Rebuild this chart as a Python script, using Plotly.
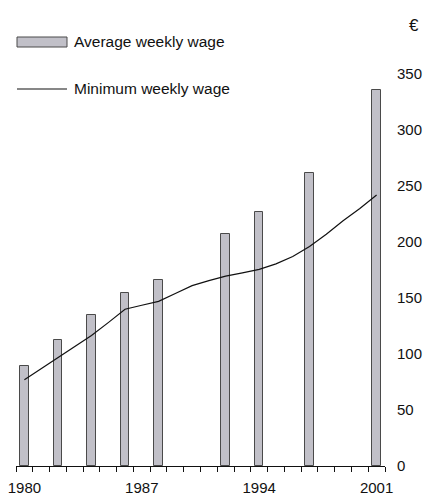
import plotly.graph_objects as go

# Data
bar_years = [1980, 1982, 1984, 1986, 1988, 1992, 1994, 1997, 2001]
avg_weekly_wage = [89.5, 112.5, 135, 154.5, 166, 207, 226.5, 262, 336]

line_years = list(range(1980, 2002))
min_weekly_wage = [77, 87, 97, 107, 116.5, 128, 140, 143.5, 147, 154, 161, 165.5,
                   169.5, 172.5, 175.5, 180.5, 187, 196, 207, 219, 230, 242]

year_labels = [1980, 1987, 1994, 2001]
y_ticks = [0, 50, 100, 150, 200, 250, 300, 350]

W, H = 423, 497
ML, MR, MT, MB = 16, 38, 74, 31
PW, PH = W - ML - MR, H - MT - MB

def px(x):
    return (x - ML) / PW

def py(y):
    return (H - MB - y) / PH

FONT = "Liberation Sans, Arial, Helvetica, sans-serif"

fig = go.Figure()
fig.add_trace(go.Bar(
    x=bar_years, y=avg_weekly_wage, width=0.5,
    marker=dict(color="#c1c0c8", line=dict(color="#4a4a4a", width=1)),
    name="Average weekly wage", showlegend=False,
))
fig.add_trace(go.Scatter(
    x=line_years, y=min_weekly_wage, mode="lines",
    line=dict(color="#111111", width=1.2),
    name="Minimum weekly wage", showlegend=False,
))
# overlay axis trace for year labels
fig.add_trace(go.Scatter(x=[1980], y=[0], xaxis="x2", mode="markers",
                         marker=dict(opacity=0), showlegend=False, hoverinfo="skip"))

boundaries = [y - 0.5 for y in range(1980, 2003)]

fig.update_layout(
    width=W, height=H,
    margin=dict(l=ML, r=MR, t=MT, b=MB, pad=0),
    plot_bgcolor="white", paper_bgcolor="white",
    font=dict(family=FONT, size=15, color="#111111"),
    showlegend=False,
    xaxis=dict(
        range=[1979.5, 2001.5], tickmode="array", tickvals=boundaries,
        showticklabels=False, ticks="outside", ticklen=5, tickcolor="#111111",
        tickwidth=1, showline=True, linecolor="#111111", linewidth=1,
        showgrid=False, zeroline=False, automargin=False, fixedrange=True,
    ),
    xaxis2=dict(
        overlaying="x", anchor="y", side="bottom", matches="x",
        range=[1979.5, 2001.5], tickmode="array", tickvals=year_labels,
        ticktext=[str(v) for v in year_labels], ticks="", showline=False,
        showgrid=False, zeroline=False, automargin=False, ticklabelstandoff=11,
        tickfont=dict(size=15, color="#111111"),
    ),
    yaxis=dict(
        range=[0, 350], side="right", tickmode="array", tickvals=y_ticks,
        ticks="", showline=False, showgrid=False, zeroline=False,
        automargin=False, ticklabelstandoff=11,
        tickfont=dict(size=15, color="#111111"),
    ),
    bargap=0,
)

# Manual legend (matches the reference's long swatches)
fig.add_shape(type="rect", xref="paper", yref="paper",
              x0=px(17), x1=px(67), y0=py(47), y1=py(37),
              fillcolor="#c1c0c8", line=dict(color="#4a4a4a", width=1))
fig.add_shape(type="line", xref="paper", yref="paper",
              x0=px(17), x1=px(67), y0=py(89), y1=py(89),
              line=dict(color="#111111", width=1.2))
fig.add_annotation(xref="paper", yref="paper", x=px(72), y=py(42),
                   text="Average weekly wage", showarrow=False,
                   xanchor="left", yanchor="middle",
                   font=dict(size=15.5, color="#111111"))
fig.add_annotation(xref="paper", yref="paper", x=px(72), y=py(88),
                   text="Minimum weekly wage", showarrow=False,
                   xanchor="left", yanchor="middle",
                   font=dict(size=15.5, color="#111111"))
fig.add_annotation(xref="paper", yref="paper", x=px(414), y=py(25),
                   text="€", showarrow=False, xanchor="center", yanchor="middle",
                   font=dict(size=17, color="#111111"))

fig.write_html("out.html", config={"displayModeBar": False},
               post_script="document.body.style.margin='0px';document.body.style.padding='0px';")
